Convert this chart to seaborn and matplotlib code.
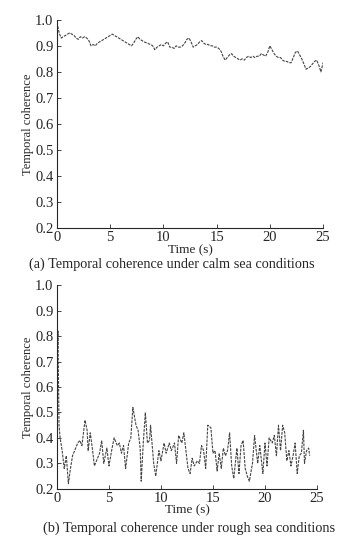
import numpy as np
import pandas as pd
import matplotlib.pyplot as plt
import seaborn as sns

# calm sea (a)
calm_t = [0.0, 0.1, 0.2, 0.4, 0.6, 0.8, 1.0, 1.2, 1.4, 1.6, 1.8, 2.0, 2.2, 2.4, 2.6, 2.8, 3.0,
          3.2, 3.4, 3.6, 3.8, 4.0, 4.2, 4.4, 4.6, 4.8, 5.0, 5.2, 5.4, 5.6, 5.8, 6.0, 6.2,
          6.4, 6.6, 6.8, 7.0, 7.2, 7.4, 7.6, 7.8, 8.0, 8.2, 8.5, 8.8, 9.0, 9.2, 9.4, 9.6,
          9.8, 10.0, 10.2, 10.4, 10.6, 10.8, 11.0, 11.2, 11.4, 11.6, 11.8, 12.0, 12.2, 12.4,
          12.6, 12.8, 13.0, 13.2, 13.4, 13.6, 13.8, 14.0, 14.2, 14.4, 14.6, 14.8, 15.0, 15.2,
          15.4, 15.6, 15.8, 16.0, 16.2, 16.4, 16.6, 16.8, 17.0, 17.2, 17.4, 17.6, 17.8, 18.0,
          18.2, 18.4, 18.6, 18.8, 19.0, 19.2, 19.4, 19.6, 19.8, 20.0, 20.2, 20.4, 20.6, 20.8,
          21.0, 21.2, 21.4, 21.6, 21.8, 22.0, 22.2, 22.4, 22.6, 22.8, 23.0, 23.2, 23.4, 23.6,
          23.8, 24.0, 24.2, 24.4, 24.6, 24.8, 25.0]
calm_v = [0.99, 0.97, 0.95, 0.93, 0.935, 0.94, 0.945, 0.95, 0.945, 0.94, 0.93, 0.925, 0.935, 0.93, 0.935, 0.93, 0.92,
          0.90, 0.905, 0.90, 0.91, 0.915, 0.92, 0.925, 0.93, 0.935, 0.94, 0.945, 0.94, 0.935, 0.93, 0.925, 0.92,
          0.915, 0.91, 0.905, 0.90, 0.91, 0.925, 0.935, 0.925, 0.92, 0.915, 0.91, 0.905, 0.90, 0.885, 0.895, 0.90,
          0.905, 0.90, 0.91, 0.915, 0.895, 0.895, 0.89, 0.90, 0.895, 0.895, 0.90, 0.91, 0.925, 0.93,
          0.915, 0.895, 0.90, 0.905, 0.915, 0.92, 0.91, 0.905, 0.905, 0.90, 0.90, 0.895, 0.895, 0.89,
          0.88, 0.86, 0.845, 0.855, 0.865, 0.87, 0.86, 0.855, 0.85, 0.845, 0.85, 0.845, 0.855, 0.86,
          0.855, 0.86, 0.855, 0.86, 0.86, 0.87, 0.865, 0.86, 0.875, 0.90, 0.885, 0.87, 0.86, 0.855,
          0.855, 0.845, 0.84, 0.84, 0.835, 0.835, 0.855, 0.875, 0.88, 0.865, 0.85, 0.83, 0.81, 0.815,
          0.82, 0.83, 0.84, 0.845, 0.825, 0.80, 0.835]

# rough sea (b)
rough_t = [0.0, 0.05, 0.1, 0.15, 0.2, 0.3, 0.5, 0.7, 0.9, 1.1, 1.3, 1.5, 1.8, 2.0, 2.2, 2.4, 2.7, 2.9,
           3.0, 3.2, 3.4, 3.6, 3.9, 4.1, 4.3, 4.5, 4.8, 5.0, 5.3, 5.5, 5.8, 6.0, 6.2, 6.4, 6.6,
           6.9, 7.1, 7.3, 7.6, 7.8, 8.0, 8.1, 8.3, 8.5, 8.7, 8.9, 9.0, 9.3, 9.5, 9.8, 10.0,
           10.3, 10.5, 10.8, 11.0, 11.3, 11.5, 11.7, 12.0, 12.2, 12.4, 12.6, 12.8, 13.0, 13.2,
           13.5, 13.7, 13.9, 14.1, 14.3, 14.5, 14.8, 15.0, 15.2, 15.4, 15.6, 15.8, 16.0, 16.2,
           16.4, 16.6, 16.8, 17.0, 17.3, 17.5, 17.7, 17.9, 18.1, 18.3, 18.5, 18.8, 19.0, 19.3,
           19.5, 19.8, 20.0, 20.2, 20.4, 20.7, 20.9, 21.1, 21.3, 21.5, 21.7, 21.9, 22.1, 22.3,
           22.5, 22.7, 22.9, 23.1, 23.3, 23.5, 23.7, 23.8, 24.0, 24.2, 24.3]
rough_v = [0.65, 0.75, 0.82, 0.62, 0.45, 0.40, 0.35, 0.28, 0.33, 0.22, 0.28, 0.33, 0.36, 0.38, 0.39, 0.37, 0.47, 0.43,
           0.35, 0.42, 0.36, 0.29, 0.32, 0.34, 0.39, 0.30, 0.36, 0.29, 0.36, 0.40, 0.37, 0.38, 0.34, 0.37, 0.28,
           0.38, 0.40, 0.52, 0.45, 0.43, 0.36, 0.23, 0.38, 0.50, 0.38, 0.39, 0.45, 0.30, 0.25, 0.35, 0.31,
           0.38, 0.34, 0.38, 0.35, 0.38, 0.30, 0.41, 0.38, 0.42, 0.35, 0.28, 0.26, 0.32, 0.29,
           0.31, 0.30, 0.37, 0.35, 0.28, 0.45, 0.44, 0.34, 0.35, 0.27, 0.34, 0.28, 0.36, 0.33,
           0.35, 0.42, 0.29, 0.24, 0.36, 0.26, 0.37, 0.39, 0.28, 0.25, 0.23, 0.30, 0.41, 0.30,
           0.37, 0.26, 0.38, 0.29, 0.40, 0.38, 0.41, 0.33, 0.45, 0.35, 0.45, 0.42, 0.31, 0.35,
           0.29, 0.33, 0.38, 0.26, 0.33, 0.34, 0.43, 0.30, 0.35, 0.36, 0.33]

y_ticks = [0.2, 0.3, 0.4, 0.5, 0.6, 0.7, 0.8, 0.9, 1.0]
x_ticks = [0, 5, 10, 15, 20, 25]
captions = ['(a) Temporal coherence under calm sea conditions',
            '(b) Temporal coherence under rough sea conditions']

sns.set_style('ticks')
plt.rcParams['font.family'] = ['Liberation Serif', 'DejaVu Serif']
plt.rcParams['xtick.direction'] = 'in'
plt.rcParams['ytick.direction'] = 'in'

fig = plt.figure(figsize=(3.39, 5.36), dpi=100)
ax1 = fig.add_axes([0.168, 0.575, 0.785, 0.388])
ax2 = fig.add_axes([0.168, 0.088, 0.767, 0.380])

calm = pd.DataFrame({'t': calm_t, 'v': calm_v})
rough = pd.DataFrame({'t': rough_t, 'v': rough_v})

# (axes, data, caption, xlabel y, ylabel x, caption x, caption y) in axes coords
setups = [(ax1, calm, captions[0], -0.108, -0.11, 0.43, -0.176),
          (ax2, rough, captions[1], -0.105, -0.113, 0.51, -0.194)]

for ax, df, cap, xl_y, yl_x, cap_x, cap_y in setups:
    sns.lineplot(data=df, x='t', y='v', ax=ax, color='#444444', lw=0.8)
    ax.lines[0].set_dashes([2.5, 1])
    ax.set_xlim(0, 25)
    ax.set_ylim(0.2, 1.0)
    ax.set_xticks(x_ticks)
    ax.set_yticks(y_ticks)
    ax.set_yticklabels([f'{v:.1f}' for v in y_ticks])
    ax.tick_params(labelsize=10.5, length=3, width=0.6)
    ax.tick_params(axis='x', pad=2)
    ax.tick_params(axis='y', pad=2.5)
    ax.set_xlabel('Time (s)', fontsize=9.5, va='center')
    ax.set_ylabel('Temporal coherence', fontsize=9, va='center')
    ax.xaxis.set_label_coords(0.5, xl_y)
    ax.yaxis.set_label_coords(yl_x, 0.5)
    sns.despine(ax=ax)
    for s in ['left', 'bottom']:
        ax.spines[s].set_linewidth(0.8)
    ax.text(cap_x, cap_y, cap, transform=ax.transAxes, ha='center', va='center', fontsize=10.3)

fig.savefig('out.png', dpi=100)
